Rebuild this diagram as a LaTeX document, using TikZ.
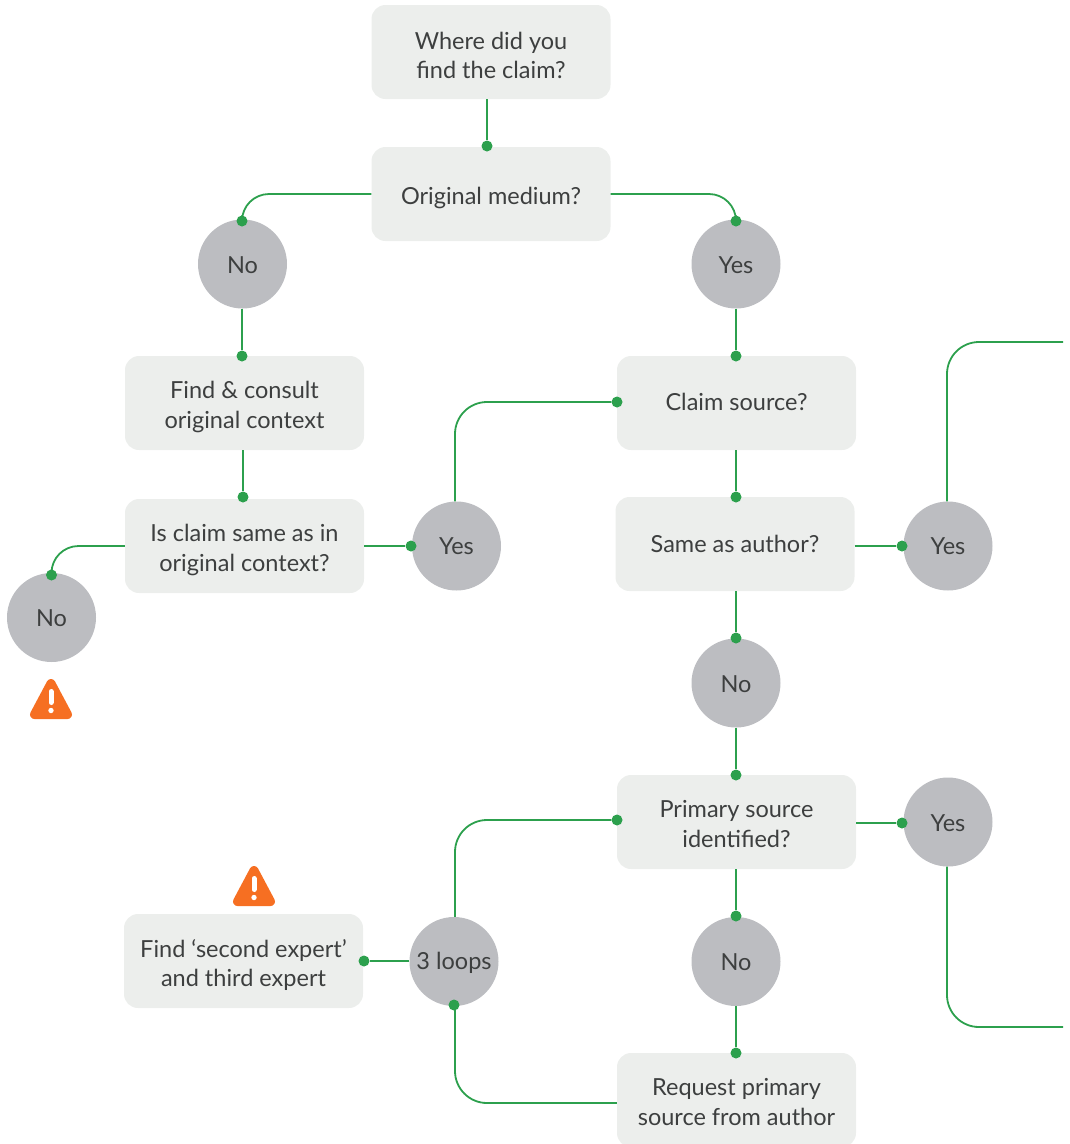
\documentclass[tikz,border=0pt]{standalone}
\usepackage{fontspec}
\setmainfont{Lato}
\definecolor{boxfill}{HTML}{ECEEEC}
\definecolor{circfill}{HTML}{BCBDC1}
\definecolor{linkgreen}{HTML}{2CA04D}
\definecolor{warnorange}{HTML}{F66F22}
\definecolor{txt}{HTML}{3D3F3F}
\tikzset{
  qbox/.style={fill=boxfill,rounded corners=14pt,minimum width=239pt,minimum height=94pt,inner sep=0pt},
  ans/.style={circle,fill=circfill,minimum size=89pt,inner sep=0pt},
  words/.style={inner sep=0pt,align=center,text=txt,font=\fontsize{23.5}{29.5}\selectfont},
  dotend/.style={circle,fill=linkgreen,minimum size=11pt,inner sep=0pt},
  link/.style={draw=linkgreen,line width=1.8pt},
  warnicon/.pic={
    \fill[warnorange,draw=warnorange,line width=9pt,line join=round] (-16.5,15)--(0,-16)--(16.5,15)--cycle;
    \draw[white,line width=5pt,line cap=round] (0,-8)--(0,3);
    \fill[white] (0,11) circle (2.7);
  }
}
\begin{document}
\begin{tikzpicture}[x=1pt,y=-1pt]
\useasboundingbox (0,0) rectangle (1069,1144);
\clip (0,0) rectangle (1069,1144);
% question boxes
\node[qbox,label={[words,yshift=-3.5pt]center:Where did you\\find the claim?}] (where) at (491,52) {};
\node[qbox,label={[words,yshift=-3.5pt]center:Original medium?}] (medium) at (491,194) {};
\node[qbox,label={[words,yshift=-4pt]center:Find \& consult\\original context}] (consult) at (244.5,403) {};
\node[qbox,label={[words,yshift=-4pt]center:Is claim same as in\\original context?}] (same) at (244.5,546) {};
\node[qbox,label={[words,yshift=1pt]center:Claim source?}] (source) at (736.5,403) {};
\node[qbox,label={[words]center:Same as author?}] (author) at (735,544) {};
\node[qbox,label={[words,yshift=-2pt]center:Primary source\\identified?}] (primary) at (736.5,822) {};
\node[qbox,label={[words,yshift=-2pt]center:Request primary\\source from author}] (request) at (736.5,1100) {};
\node[qbox,label={[words,yshift=-4pt]center:Find ‘second expert’\\and third expert}] (second) at (243.5,961) {};
% answers
\node[ans,label={[words,yshift=-1pt]center:No}] (no1) at (242.5,264) {};
\node[ans,label={[words,yshift=-1pt]center:Yes}] (yes1) at (736,264) {};
\node[ans,label={[words]center:Yes}] (yes2) at (456.5,546) {};
\node[ans,label={[words]center:Yes}] (yes3) at (948,546) {};
\node[ans,label={[words,yshift=-1pt]center:No}] (no2) at (51.5,617.5) {};
\node[ans,label={[words,yshift=-1pt]center:No}] (no3) at (736,683) {};
\node[ans,label={[words,yshift=-1pt]center:Yes}] (yes4) at (948,822) {};
\node[ans,label={[words,yshift=-1.5pt]center:3 loops}] (loops) at (454,961.5) {};
\node[ans,label={[words,yshift=-1pt]center:No}] (no4) at (736,961.5) {};
% connector end dots
\node[dotend] (d1) at (487,146) {};
\node[dotend] (d2) at (242,221) {};
\node[dotend] (d3) at (736,221) {};
\node[dotend] (d4) at (242,356) {};
\node[dotend] (d5) at (736,356) {};
\node[dotend] (d6) at (243,497) {};
\node[dotend] (d7) at (411,546) {};
\node[dotend] (d8) at (51.5,575) {};
\node[dotend] (d9) at (617,402) {};
\node[dotend] (d10) at (736,497) {};
\node[dotend] (d11) at (902,546) {};
\node[dotend] (d12) at (736,638) {};
\node[dotend] (d13) at (736,775) {};
\node[dotend] (d14) at (902,823) {};
\node[dotend] (d15) at (736,916) {};
\node[dotend] (d16) at (736,1053) {};
\node[dotend] (d17) at (617,820) {};
\node[dotend] (d18) at (454,1005) {};
\node[dotend] (d19) at (364,961) {};
\coordinate (out1) at (1063,342);
\coordinate (out2) at (1063,1027);
% connectors
\draw[link] (where.south -| d1) -- (d1);
\draw[link,rounded corners=27pt] (medium.west) -- (medium.west -| d2) -- (d2);
\draw[link,rounded corners=27pt] (medium.east) -- (medium.east -| d3) -- (d3);
\draw[link] (no1.south -| d4) -- (d4);
\draw[link] (yes1.south) -- (d5);
\draw[link] (consult.south -| d6) -- (d6);
\draw[link] (same.east) -- (d7);
\draw[link,rounded corners=27pt] (same.west) -- (same.west -| d8) -- (d8);
\draw[link,rounded corners=32pt] (yes2.north -| 455,0) -- (455,0 |- d9) -- (d9);
\draw[link] (source.south -| d10) -- (d10);
\draw[link] (author.east |- d11) -- (d11);
\draw[link,rounded corners=32pt] (yes3.north -| 947,0) -- (947,0 |- out1) -- (out1);
\draw[link] (author.south -| d12) -- (d12);
\draw[link] (no3.south) -- (d13);
\draw[link] (primary.east |- d14) -- (d14);
\draw[link,rounded corners=32pt] (yes4.south -| 947,0) -- (947,0 |- out2) -- (out2);
\draw[link] (primary.south -| d15) -- (d15);
\draw[link] (no4.south) -- (d16);
\draw[link,rounded corners=32pt] (loops.north -| 455,0) -- (455,0 |- d17) -- (d17);
\draw[link,rounded corners=32pt] (request.west |- 0,1103) -- (455,1103) -- (455,0 |- d18);
\draw[link] (loops.west |- d19) -- (d19);
% warning icons
\pic at (51,699.5) {warnicon};
\pic at (254,886.5) {warnicon};
\end{tikzpicture}
\end{document}
